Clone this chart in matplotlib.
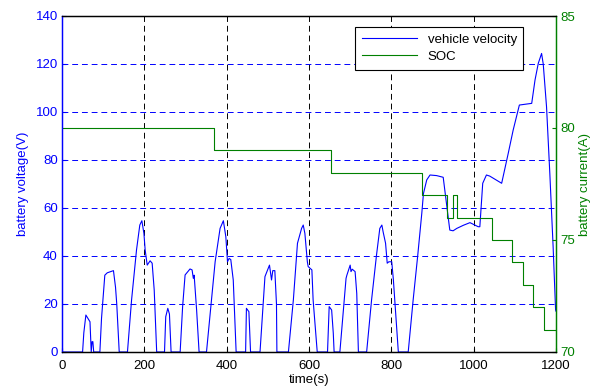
import matplotlib
matplotlib.use("Agg")
import matplotlib.pyplot as plt

plt.rcParams['font.family'] = ['Liberation Sans', 'DejaVu Sans']

# vehicle velocity (left axis)
time_s = [0, 50, 53, 58, 68, 71, 73, 75, 77, 92, 96, 104, 110, 125, 130, 133, 139,
          159, 169, 181, 189, 194, 199, 202, 207, 214, 219, 224, 230,
          249, 252, 257, 261, 265,
          287, 293, 299, 311, 316, 319, 321, 327, 333,
          351, 360, 372, 384, 392, 398, 402, 406, 410, 416, 423,
          446, 448, 454, 458,
          481, 493, 504, 509, 512, 517, 521, 522,
          550, 562, 572, 582, 586, 590, 596, 598, 607, 610, 620,
          645, 649, 655, 659, 661,
          675, 685, 690, 692, 700, 702, 705, 712, 716, 720,
          740, 752, 764, 772, 777, 780, 786, 790, 794, 801, 805, 811, 817,
          841, 853, 864, 874, 878, 886, 894, 910, 926, 933, 942, 950, 959, 975, 991, 1011,
          1015, 1022, 1031, 1039, 1068, 1084, 1096, 1111, 1141, 1149, 1157, 1165,
          1169, 1177, 1185, 1189, 1193, 1199, 1200]
velocity = [0, 0, 8, 15.4, 12.6, 0, 4.3, 4.3, 0, 0, 14, 32, 33, 33.9, 27, 20, 0,
            0, 21.7, 42.5, 52.9, 54.7, 49.4, 42.5, 36.2, 38, 37, 25.8, 0,
            0, 14.7, 18.2, 15.8, 0,
            0, 18.9, 32.1, 34.6, 34.2, 30.7, 32, 17.5, 0,
            0, 16, 37.6, 51.5, 54.7, 48, 37.6, 39, 38.5, 30, 0,
            0, 18.2, 16.8, 0,
            0, 31.4, 36.2, 30, 33.9, 33.9, 20, 0,
            0, 21.7, 45.3, 51.5, 52.9, 49.4, 37.6, 35.6, 34.2, 21.7, 0,
            0, 18.9, 17.5, 7.8, 0,
            0, 20.3, 30.7, 32, 36.2, 33.5, 34.5, 33.5, 24.4, 0,
            0, 21.7, 40.4, 51.5, 52.9, 50.1, 45.3, 37, 37.6, 37.6, 30, 14.7, 0,
            0, 21.7, 40, 57.8, 66, 71.7, 73.75, 73.5, 72.8, 63.3, 50.8, 50.5, 51.5, 52.8, 53.9, 52.2,
            52.2, 70.3, 73.75, 73.3, 70.3, 82.8, 92.5, 102.9, 103.6, 113.3, 120.3, 124.4,
            120, 102.2, 74.4, 59, 43.9, 17.5, 17]

# SOC (right axis), step function
soc_time = [0, 370, 653, 874, 936, 949, 960, 1045, 1094, 1120, 1145, 1171, 1200]
soc = [80, 79, 78, 77, 76, 77, 76, 75, 74, 73, 72, 71, 71]

blue = (0, 0, 1)
green = (0, 0.5, 0)

fig = plt.figure(figsize=(5.94, 3.92), dpi=100)
ax = fig.add_axes([62/594, 1-352/392, (556-62)/594, (352-16)/392])
ax2 = ax.twinx()

l1, = ax.plot(time_s, velocity, color=blue, lw=0.8)
l2, = ax2.plot(soc_time, soc, color=green, lw=0.8, drawstyle='steps-post')

ax.set_xlim(0, 1200)
ax.set_ylim(0, 140)
ax2.set_ylim(70, 85)
ax.set_xticks(range(0, 1201, 200))
ax.set_yticks(range(0, 141, 20))
ax2.set_yticks([70, 75, 80, 85])

fs = 9.5
ax.tick_params(axis='x', direction='in', length=3, colors='black', labelsize=fs, pad=6, top=False)
ax.tick_params(axis='y', direction='in', length=3, colors=blue, labelsize=fs, pad=3)
ax2.tick_params(axis='y', direction='in', length=3, colors=green, labelsize=fs, pad=3)

ax.xaxis.grid(True, color='black', linestyle=(0, (6, 4)), lw=0.7)
ax.yaxis.grid(True, color=blue, linestyle=(0, (6, 4)), lw=0.7)

for a in (ax, ax2):
    a.spines['left'].set_color(blue)
    a.spines['right'].set_color(green)
    a.spines['top'].set_color('black')
    a.spines['bottom'].set_color('black')
    for s in a.spines.values():
        s.set_linewidth(0.9)

ax.set_xlabel('time(s)', fontsize=fs, labelpad=1.5)
ax.set_ylabel('battery voltage(V)', fontsize=fs, color=blue, labelpad=5)
ax2.set_ylabel('battery current(A)', fontsize=fs, color=green, labelpad=3)

leg = ax2.legend([l1, l2], ['vehicle velocity', 'SOC'], loc='upper right',
                 bbox_to_anchor=(0.942, 0.98), fontsize=fs, fancybox=False,
                 edgecolor='black', framealpha=1, borderaxespad=0.3,
                 handlelength=4.2, borderpad=0.5, labelspacing=0.4)
leg.get_frame().set_linewidth(0.8)

fig.savefig('out.png', dpi=100)
